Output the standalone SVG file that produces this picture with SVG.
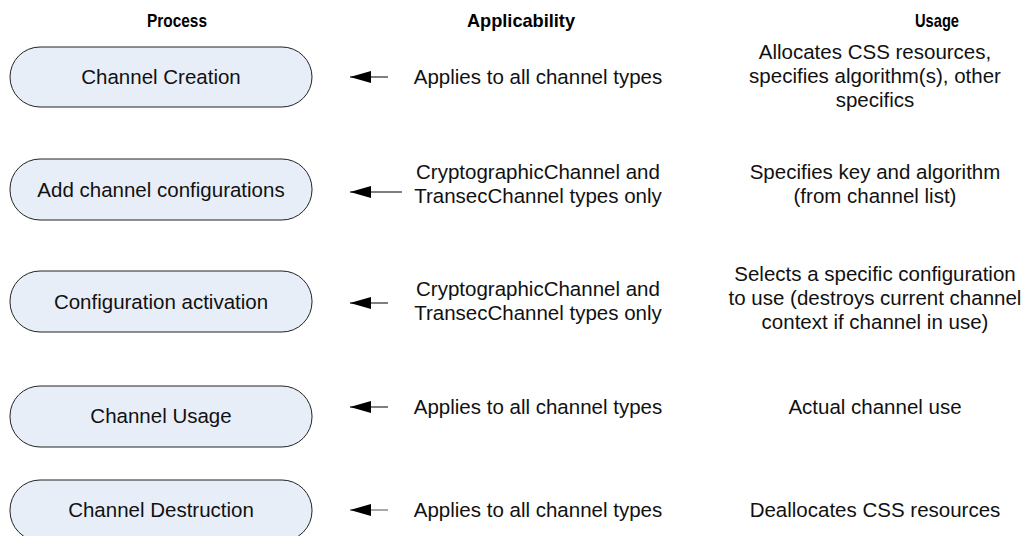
<svg xmlns="http://www.w3.org/2000/svg" width="1032" height="536" viewBox="0 0 1032 536">
<style>
.node{fill:#E8EEF8;stroke:#222;stroke-width:1}
.t{font-family:"Liberation Sans",Arial,sans-serif;font-size:20.5px;fill:#111;text-anchor:middle}
.h{font-family:"Liberation Sans",Arial,sans-serif;font-size:19px;font-weight:bold;fill:#000;text-anchor:middle}
.c{stroke:#000;stroke-width:1.2;fill:none;marker-end:url(#ah)}
</style>
<defs>
<marker id="ah" markerUnits="userSpaceOnUse" markerWidth="22" markerHeight="14" refX="21" refY="6" orient="auto">
<path d="M0,0 L21,6 L0,12 z" fill="#000"/>
</marker>
</defs>
<g id="headers">
<text class="h" x="177" y="27" textLength="60" lengthAdjust="spacingAndGlyphs">Process</text>
<text class="h" x="521" y="27" textLength="108" lengthAdjust="spacingAndGlyphs">Applicability</text>
<text class="h" x="937" y="27" textLength="44" lengthAdjust="spacingAndGlyphs">Usage</text>
</g>
<g id="n1"><rect class="node" x="10" y="47" width="302" height="60" rx="30"/><text class="t" x="161" y="84">Channel Creation</text></g>
<g id="n2"><rect class="node" x="10" y="159" width="302" height="61" rx="30"/><text class="t" x="161" y="197">Add channel configurations</text></g>
<g id="n3"><rect class="node" x="10" y="271" width="302" height="61" rx="30"/><text class="t" x="161" y="309">Configuration activation</text></g>
<g id="n4"><rect class="node" x="10" y="386" width="302" height="61" rx="30"/><text class="t" x="161" y="423">Channel Usage</text></g>
<g id="n5"><rect class="node" x="10" y="480" width="302" height="61" rx="30"/><text class="t" x="161" y="517">Channel Destruction</text></g>
<g id="applicability">
<text class="t" x="538" y="84">Applies to all channel types</text>
<text class="t" x="538" y="179">CryptographicChannel and</text>
<text class="t" x="538" y="203">TransecChannel types only</text>
<text class="t" x="538" y="296">CryptographicChannel and</text>
<text class="t" x="538" y="320">TransecChannel types only</text>
<text class="t" x="538" y="414">Applies to all channel types</text>
<text class="t" x="538" y="517">Applies to all channel types</text>
</g>
<g id="usage">
<text class="t" x="875" y="59">Allocates CSS resources,</text>
<text class="t" x="875" y="83">specifies algorithm(s), other</text>
<text class="t" x="875" y="107">specifics</text>
<text class="t" x="875" y="179">Specifies key and algorithm</text>
<text class="t" x="875" y="203">(from channel list)</text>
<text class="t" x="875" y="281">Selects a specific configuration</text>
<text class="t" x="875" y="305">to use (destroys current channel</text>
<text class="t" x="875" y="329">context if channel in use)</text>
<text class="t" x="875" y="414">Actual channel use</text>
<text class="t" x="875" y="517">Deallocates CSS resources</text>
</g>
<g id="connectors">
<line class="c" x1="388" y1="77" x2="350" y2="77"/>
<line class="c" x1="402" y1="192" x2="350" y2="192"/>
<line class="c" x1="388" y1="303" x2="350" y2="303"/>
<line class="c" x1="388" y1="407" x2="350" y2="407"/>
<line class="c" x1="388" y1="510" x2="350" y2="510" style="stroke:#555"/>
</g>
</svg>
